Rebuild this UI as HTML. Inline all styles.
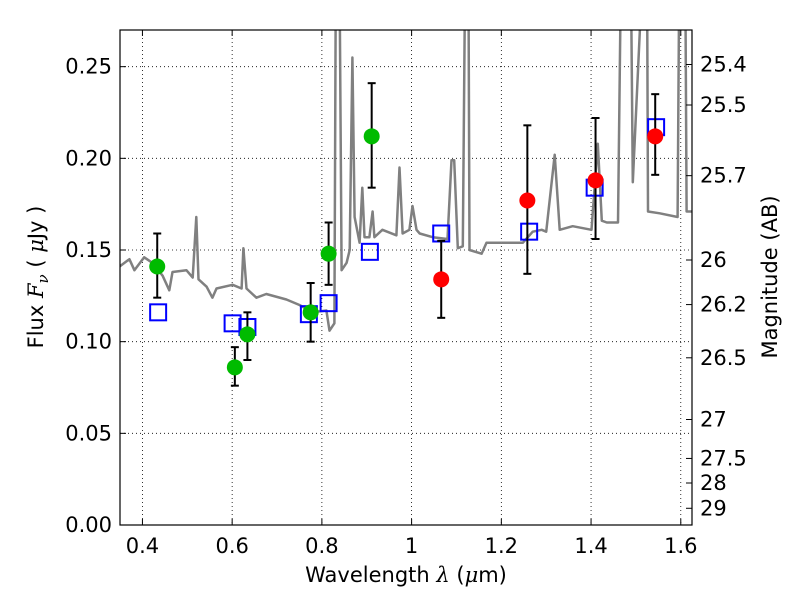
<!DOCTYPE html>
<html><head><meta charset="utf-8"><style>
body{margin:0;background:#fff}
svg{display:block;font-family:"DejaVu Sans","Liberation Sans",sans-serif}
</style></head><body>
<svg id="chart" width="800" height="600" viewBox="0 0 800 600" xmlns="http://www.w3.org/2000/svg">
<defs><clipPath id="clip"><rect x="120" y="30" width="572" height="495"/></clipPath></defs>
<rect x="0" y="0" width="800" height="600" fill="#fff"/>
<g id="grid"></g>
<g id="plot" clip-path="url(#clip)"></g>
<rect x="120" y="30" width="572" height="495" fill="none" stroke="#000" stroke-width="1.2"/>
<g id="axes"></g>
<text x="406" y="582" font-size="21" text-anchor="middle">Wavelength  <tspan font-family="DejaVu Serif,serif" font-style="italic">λ</tspan> (<tspan font-family="DejaVu Serif,serif" font-style="italic">μ</tspan>m)</text>
<text transform="translate(43,277) rotate(-90)" font-size="21" text-anchor="middle">Flux  <tspan font-family="DejaVu Serif,serif" font-style="italic">F</tspan><tspan font-family="DejaVu Serif,serif" font-style="italic" font-size="15" dy="5">ν</tspan><tspan dy="-5">  ( </tspan><tspan font-family="DejaVu Serif,serif" font-style="italic">μ</tspan>Jy )</text>
<text transform="translate(777,277) rotate(-90)" font-size="21" text-anchor="middle">Magnitude (AB)</text>
</svg>
<script>
const specLam=[0.349,0.371,0.382,0.404,0.422,0.445,0.460,0.467,0.498,0.512,0.520,0.525,0.543,0.556,0.565,0.601,0.621,0.625,0.632,0.654,0.676,0.721,0.750,0.779,0.810,0.817,0.828,0.832,0.838,0.844,0.855,0.862,0.868,0.873,0.884,0.890,0.895,0.906,0.913,0.917,0.935,0.966,0.973,0.980,0.995,1.002,1.011,1.018,1.047,1.080,1.089,1.095,1.103,1.114,1.121,1.126,1.129,1.156,1.167,1.196,1.248,1.270,1.290,1.300,1.319,1.330,1.359,1.401,1.415,1.424,1.435,1.460,1.469,1.487,1.493,1.524,1.527,1.553,1.593,1.598,1.609,1.613,1.625];
const specFlux=[0.141,0.145,0.139,0.146,0.143,0.136,0.128,0.138,0.139,0.135,0.168,0.134,0.130,0.124,0.129,0.131,0.129,0.151,0.129,0.124,0.126,0.123,0.120,0.116,0.117,0.106,0.110,0.35,0.35,0.139,0.143,0.150,0.255,0.168,0.154,0.184,0.157,0.157,0.171,0.157,0.161,0.158,0.195,0.159,0.161,0.174,0.161,0.159,0.157,0.156,0.199,0.199,0.151,0.152,0.35,0.35,0.150,0.148,0.154,0.154,0.154,0.160,0.161,0.160,0.202,0.161,0.163,0.161,0.208,0.166,0.165,0.165,0.35,0.35,0.187,0.35,0.171,0.170,0.168,0.35,0.35,0.171,0.171];
const greenLam=[0.433,0.606,0.634,0.775,0.815,0.911];
const greenFlux=[0.141,0.086,0.104,0.116,0.148,0.212];
const greenLo=[0.124,0.076,0.090,0.100,0.131,0.184];
const greenHi=[0.159,0.097,0.116,0.132,0.165,0.241];
const redLam=[1.066,1.258,1.410,1.543];
const redFlux=[0.134,0.177,0.188,0.212];
const redLo=[0.113,0.137,0.156,0.191];
const redHi=[0.155,0.218,0.222,0.235];
const modelLam=[0.435,0.601,0.634,0.771,0.815,0.907,1.066,1.262,1.408,1.545];
const modelFlux=[0.116,0.110,0.108,0.115,0.121,0.149,0.159,0.160,0.184,0.217];
const xTicks=[0.4,0.6,0.8,1.0,1.2,1.4,1.6];
const xTickLabels=["0.4","0.6","0.8","1","1.2","1.4","1.6"];
const yTicks=[0,0.05,0.10,0.15,0.20,0.25];
const yTickLabels=["0.00","0.05","0.10","0.15","0.20","0.25"];
const magTicks=[25.4,25.5,25.7,26,26.2,26.5,27,27.5,28,29];

const NS="http://www.w3.org/2000/svg";
const X0=120,X1=692,Y0=525,Y1=30,LMIN=0.35,LMAX=1.625,FMAX=0.27;
const sx=l=>X0+(l-LMIN)/(LMAX-LMIN)*(X1-X0);
const sy=f=>Y0-f/FMAX*(Y0-Y1);
function mk(tag,attrs,parent){const e=document.createElementNS(NS,tag);for(const k in attrs)e.setAttribute(k,attrs[k]);parent.appendChild(e);return e;}
const grid=document.getElementById('grid'),plot=document.getElementById('plot'),axes=document.getElementById('axes');

xTicks.forEach((t,i)=>{const x=sx(t);
 let g=mk('line',{x1:x,x2:x,y1:Y1,y2:Y0,stroke:'#000','stroke-dasharray':'1,3','stroke-width':0.8},grid);
 
 mk('line',{x1:x,x2:x,y1:Y0,y2:Y0-6,stroke:'#000'},axes);mk('line',{x1:x,x2:x,y1:Y1,y2:Y1+6,stroke:'#000'},axes);
 let tx=mk('text',{x:x,y:553,'font-size':21,'text-anchor':'middle'},axes);tx.textContent=xTickLabels[i];
 });
yTicks.forEach((t,i)=>{const y=sy(t);
 if(t>0){let g=mk('line',{x1:X0,x2:X1,y1:y,y2:y,stroke:'#000','stroke-dasharray':'1,3','stroke-width':0.8},grid);
 }
 mk('line',{x1:X0,x2:X0+6,y1:y,y2:y,stroke:'#000'},axes);
 let tx=mk('text',{x:112,y:y+7,'font-size':21,'text-anchor':'end'},axes);tx.textContent=yTickLabels[i];
 });
magTicks.forEach(m=>{const f=Math.pow(10,-(m-23.9)/2.5);const y=sy(f);
 mk('line',{x1:X1,x2:X1-6,y1:y,y2:y,stroke:'#000'},axes);
 let tx=mk('text',{x:700,y:y+7,'font-size':21},axes);tx.textContent=String(m);
 });

let d='';specLam.forEach((l,i)=>{d+=(i?'L':'M')+sx(l).toFixed(1)+','+sy(specFlux[i]).toFixed(1);});
const sp=mk('path',{d:d,fill:'none',stroke:'#808080','stroke-width':2.5,'stroke-linejoin':'round'},plot);



function errPts(lam,fl,lo,hi,col,name){lam.forEach((l,i)=>{const x=sx(l);
 const g=mk('g',{},plot);
 
 
 mk('line',{x1:x,x2:x,y1:sy(lo[i]),y2:sy(hi[i]),stroke:'#000','stroke-width':2},g);
 mk('line',{x1:x-4,x2:x+4,y1:sy(lo[i]),y2:sy(lo[i]),stroke:'#000','stroke-width':2},g);
 mk('line',{x1:x-4,x2:x+4,y1:sy(hi[i]),y2:sy(hi[i]),stroke:'#000','stroke-width':2},g);
 mk('circle',{cx:x,cy:sy(fl[i]),r:8,fill:col},g);});}
modelLam.forEach((l,i)=>{const r=mk('rect',{x:sx(l)-8,y:sy(modelFlux[i])-8,width:16,height:16,fill:'none',stroke:'#0000ff','stroke-width':2},plot);
 
 });
errPts(greenLam,greenFlux,greenLo,greenHi,'#00bb00','optical-data-point');
errPts(redLam,redFlux,redLo,redHi,'#ff0000','nir-data-point');
</script>
</body></html>
